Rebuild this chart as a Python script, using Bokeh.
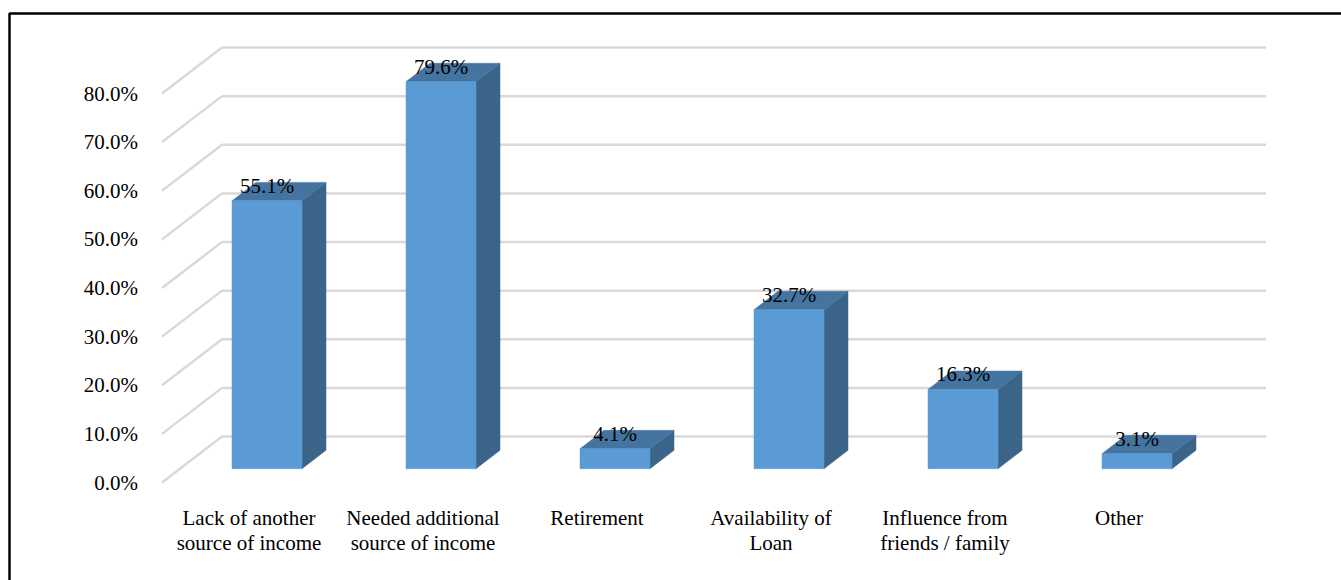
from bokeh.plotting import figure
from bokeh.models import Range1d, ColumnDataSource
from bokeh.embed import file_html
from bokeh.resources import INLINE
from bokeh.core.properties import value

# ---- data ----
categories = ["Lack of another\nsource of income", "Needed additional\nsource of income",
              "Retirement", "Availability of\nLoan", "Influence from\nfriends / family", "Other"]
values = [55.1, 79.6, 4.1, 32.7, 16.3, 3.1]
value_labels = ["55.1%", "79.6%", "4.1%", "32.7%", "16.3%", "3.1%"]
tick_values = [0, 10, 20, 30, 40, 50, 60, 70, 80]
tick_labels = ["0.0%", "10.0%", "20.0%", "30.0%", "40.0%", "50.0%", "60.0%", "70.0%", "80.0%"]

# ---- layout / projection ----
W, H = 1341, 580
X0_PX, CAT_PX = 248.5, 174.0      # front-plane centre of first category, px per category
ZERO_PX, PCT_PX = 482.0, 4.8625   # front-plane 0% (px from top), px per percent
DX = 60.0 / CAT_PX                # full depth offset, in data units
DY = 46.0 / PCT_PX
A, B = 0.30, 0.70                 # bar front / back depth fractions
BW = 70.0 / CAT_PX                # bar width

def px2x(px):
    return (px - X0_PX) / CAT_PX

def px2y(py):
    return (ZERO_PX - py) / PCT_PX

p = figure(width=W, height=H, output_backend="svg", toolbar_location=None,
           x_range=Range1d(px2x(0), px2x(W)), y_range=Range1d(px2y(H), px2y(0)),
           x_axis_type=None, y_axis_type=None, min_border=0)
p.outline_line_color = None
p.grid.visible = False
p.background_fill_color = "white"

FONT = value("'Times New Roman', 'Liberation Serif', serif")
GRID = "#D9D9D9"

# ---- walls: gridlines ----
n = len(categories)
wall_left = -0.5
wall_right = n - 0.5
p.segment(x0=[wall_left] * len(tick_values), y0=tick_values,
          x1=[wall_left + DX] * len(tick_values), y1=[t + DY for t in tick_values],
          line_color=GRID, line_width=2.5)
p.segment(x0=[wall_left + DX] * len(tick_values), y0=[t + DY for t in tick_values],
          x1=[wall_right + DX] * len(tick_values), y1=[t + DY for t in tick_values],
          line_color=GRID, line_width=2.5)

# ---- bars ----
fl, fr, ft, fb = [], [], [], []
side_xs, side_ys, top_xs, top_ys = [], [], [], []
for i, v in enumerate(values):
    l = i - BW / 2 + A * DX
    r = i + BW / 2 + A * DX
    b = A * DY
    t = v + A * DY
    ox, oy = (B - A) * DX, (B - A) * DY
    fl.append(l); fr.append(r); fb.append(b); ft.append(t)
    side_xs.append([r, r + ox, r + ox, r])
    side_ys.append([b, b + oy, t + oy, t])
    top_xs.append([l, r, r + ox, l + ox])
    top_ys.append([t, t, t + oy, t + oy])

p.patches(side_xs, side_ys, fill_color="#3B6489", line_color="#3B6489", line_width=0.5)
p.patches(top_xs, top_ys, fill_color="#44749F", line_color="#44749F", line_width=0.5)
p.quad(left=fl, right=fr, bottom=fb, top=ft, fill_color="#5B9BD5", line_color="#5B9BD5", line_width=0.5)

# ---- value labels ----
src = ColumnDataSource(dict(x=[i + A * DX for i in range(n)],
                            y=[v + A * DY for v in values], t=value_labels))
p.text(x="x", y="y", text="t", source=src, text_font=FONT, text_font_size="21px",
       text_align="center", text_baseline="alphabetic", y_offset=-15, text_color="black")

# ---- y tick labels ----
p.text(x=[wall_left] * len(tick_values), y=tick_values, text=tick_labels,
       text_font=FONT, text_font_size="21px", text_align="right", text_baseline="middle",
       x_offset=-24, text_color="black")

# ---- category labels ----
p.text(x=list(range(n)), y=[0] * n, text=categories, text_font=FONT, text_font_size="21px",
       text_align="center", text_baseline="top", y_offset=23, text_line_height=1.05,
       text_color="black")

# ---- chart border (left and top edges visible) ----
p.line([px2x(9), px2x(9), px2x(W + 5)], [px2y(H + 5), px2y(13), px2y(13)],
       line_color="black", line_width=2.5)

open("out.html", "w").write(file_html(p, INLINE))
